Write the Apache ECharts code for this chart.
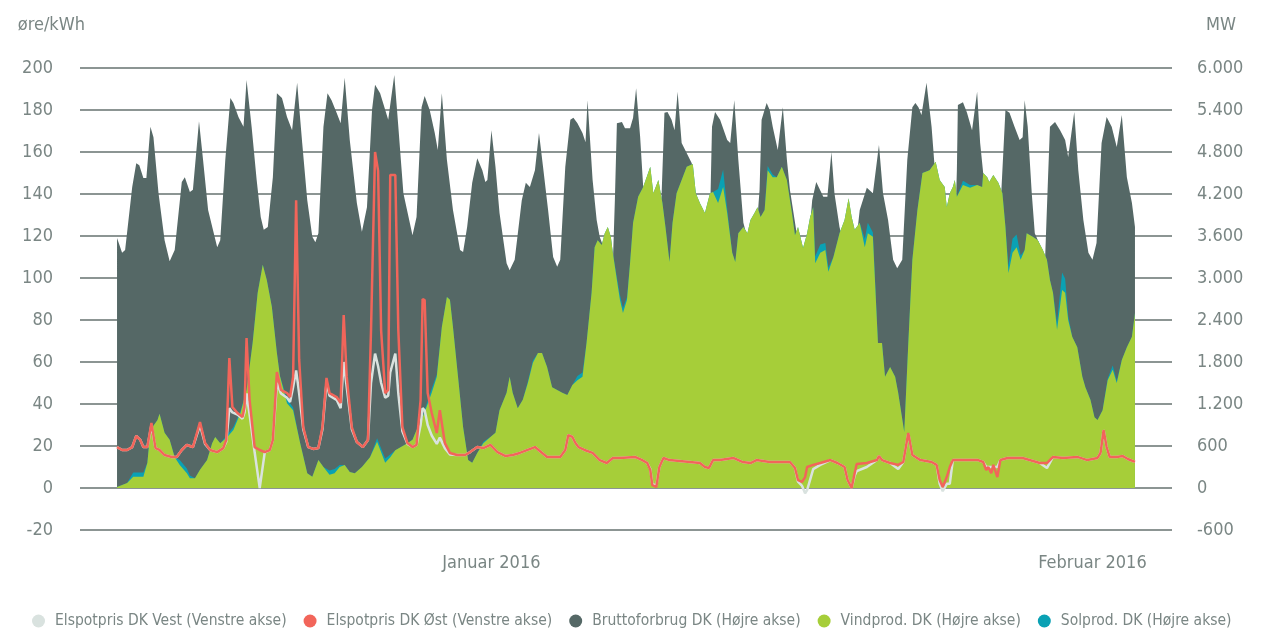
<!DOCTYPE html>
<html>
<head>
<meta charset="utf-8">
<script src="https://cdn.jsdelivr.net/npm/echarts@6/dist/echarts.min.js"></script>
<style>
  html, body { margin: 0; padding: 0; background: #fff; }
  #main { width: 1272px; height: 630px; }
</style>
</head>
<body>
<div id="main"></div>
<script>
// timer (hours from start of the period)
var consHours = [0,2.5,4,7.5,9.5,11,13,14.5,16.5,18,20.5,23.5,26,28.5,32,33.5,36,37.5,40.5,42.5,45,49.5,51,53.5,56,57.5,60,62.5,64,66.5,69,71,72.5,74.5,77,79,81.5,84,86.5,89,91.5,94,96.5,98,99.5,102,104,106,108.5,110.5,112.5,115,118.5,121,123.5,126,127.5,130,134,137,139,141.5,146,148,150.5,152,154.5,157,158.5,160.5,163,166,169.5,171,173,175.5,178,180.5,182,183,185,187,189,192.5,194,196.5,200,202,204,206.5,208.5,210.5,213,215.5,217.5,219,221.5,224,225.5,227.5,230,231.5,232.5,235,237,238.5,240,242.5,245,246,247,249.5,251,253.5,255,256.5,258.5,260,264.5,268,269,270.5,272,274,275.5,277,279,284,288,292,293,294,295.5,298,301.5,303,305,307,309.5,313,315.5,317.5,318.5,321,322.5,324,326.5,329,331,332.5,337.5,341.5,343.5,345.5,349,351,353,354.5,357,361,364.5,367,370.5,373.5,376.5,378.5,381,383.5,385.5,388,390.5,393,394.5,396,397.5,400,402.5,404,407.5,411.5,414,415,415.5,418,420,422.5,425,426.5,428,431.5,435.5,438,439,441,443.5,446,447.5,448.5,450,452,453.5,456,458.5,460,461,463.5,466,468.5,470,473,475,477.5,480,482,484,486.5,489,491.5,494,496.5,499,501.5,503];
var consMW = [3570,3360,3400,4300,4640,4610,4430,4430,5160,5010,4210,3540,3240,3400,4370,4440,4230,4260,5240,4690,3970,3440,3540,4690,5570,5500,5300,5160,5830,5160,4400,3870,3690,3730,4440,5640,5570,5300,5110,5790,4930,4110,3590,3510,3640,5160,5640,5540,5360,5210,5860,4970,4070,3660,4010,5400,5760,5640,5260,5900,5160,4210,3610,3870,5440,5600,5400,5070,4830,5640,4690,3970,3400,3370,3730,4360,4710,4540,4370,4400,5110,4590,3930,3210,3110,3260,4110,4360,4300,4540,5070,4590,3970,3300,3160,3260,4590,5260,5290,5210,5070,4940,5540,4400,3830,3590,3470,3300,3200,4110,5210,5230,5140,5140,5290,5710,5010,4300,3690,3400,4110,5360,5370,5260,5110,5660,4930,4640,3690,3400,3830,5160,5370,5260,4970,4930,5540,4690,3790,3400,3470,4260,5260,5500,5400,5160,4830,5440,4690,4260,3330,3400,4110,4370,4160,4160,4800,4210,3730,3260,3330,3970,4290,4210,4900,4210,3830,3260,3140,3260,4690,5440,5500,5440,5330,5790,5160,4590,3830,3400,3540,4540,5470,5510,5360,5110,5660,4930,4500,3540,3400,4830,5400,5360,5160,4970,5010,5540,5160,4210,3640,3470,3200,4400,5160,5230,5110,4970,4730,5370,4540,3830,3360,3260,3500,4930,5300,5160,4870,5330,4440,4070,3730];

var windHours = [0,5,8,13,15,16.5,20,21,23.5,26,28.5,31,34.5,36,38.5,41,44.5,47,48.5,51,54.5,57.5,61,64,67,69.5,72,74,76.5,79,80.5,84,87,90.5,94,96.5,99.5,102,105,107.5,110,112.5,115,117.5,121,125,128.5,132.5,135,137.5,143.5,146,148,150.5,153,155.5,158,160.5,163,164.5,166,168.5,171,173.5,175.5,178,181,184.5,187,189,192.5,194,195.5,198,200.5,203,205.5,208,210,212.5,215,217.5,220,222.5,225,227.5,230,232,234.5,236,237.5,239.5,241,242.5,244,245,247,248.5,250,252,253.5,255,257.5,260,263.5,265,267.5,269.5,271,273,274.5,276.5,279,281.5,284.5,286,288,290.5,293,294.5,297,299.5,301.5,304,305.5,307,309.5,311.5,313,315,316.5,318,320,321.5,324,326,328.5,331,333.5,335,336.5,339,341,342.5,344,345,347.5,350,351.5,354,357,359.5,361.5,363,364.5,367,369.5,371,373.5,376,378,379.5,382,384.5,386,389,391,393,395.5,398,401.5,404.5,406.5,409,410,411.5,413,414,415,418,421.5,425,427.5,428,430,431,433,435.5,437.5,439,440.5,442.5,444.5,446.5,448.5,449.5,452.5,455,457.5,459.5,461,462.5,464.5,467,468.5,470,472,474.5,477,478.5,481,483,484.5,487,489.5,492,494,496.5,499,501.5,503];
var windMW = [15,70,160,160,360,830,970,1060,790,690,440,330,210,140,140,260,400,640,730,640,730,830,1070,1400,2070,2790,3190,2970,2590,1930,1600,1210,1110,640,210,160,400,300,190,210,300,330,230,210,300,440,660,360,440,540,640,690,830,970,1160,1360,1590,2300,2730,2690,2300,1590,870,400,360,500,640,730,790,1110,1360,1590,1360,1140,1260,1500,1790,1930,1930,1730,1440,1400,1360,1330,1470,1540,1590,2070,2790,3440,3540,3470,3640,3730,3590,3360,2970,2690,2500,2690,3210,3790,4160,4300,4590,4210,4400,4070,3730,3230,3790,4210,4400,4590,4630,4210,4070,3930,4210,4230,4070,4300,3930,3360,3230,3640,3730,3640,3830,3930,4010,3870,3970,4540,4440,4440,4590,4400,3930,3610,3730,3430,3640,3870,4010,3210,3360,3400,3090,3300,3640,3830,4140,3870,3690,3790,3440,3640,3590,2070,2070,1590,1730,1590,1360,800,2070,3260,3970,4500,4540,4660,4400,4300,4010,4210,4300,4400,4160,4330,4290,4330,4300,4500,4440,4370,4470,4360,4210,3730,3070,3360,3440,3260,3400,3640,3590,3540,3400,3260,2970,2790,2260,2830,2790,2400,2160,2010,1590,1440,1260,1010,970,1110,1540,1690,1500,1830,2010,2160,2500];

// solar readings (only the hours where the blue band is visible; zero elsewhere)
var solarHours = [8,13,31,34.5,36,54.5,57.5,61,84,87,105,107.5,110,128.5,132.5,135,153,155.5,158,181,203,205.5,227.5,230,247,248.5,250,252,297,299.5,301.5,321.5,324,345,347.5,350,351.5,369.5,371,373.5,418,421.5,440.5,442.5,444.5,446.5,464.5,467,468.5,470,489.5,492,494];
var solarMW = [60,60,70,70,40,30,40,30,60,40,60,60,30,50,60,40,40,60,30,20,20,30,60,60,40,70,70,40,200,250,60,60,40,100,120,100,60,120,150,60,60,40,100,200,180,60,100,250,200,60,20,60,30];

var priceHours = [0,2.5,5,7.5,9.5,11.5,13,15,17,19,21,23.5,27,29.5,32,34.5,37.5,41,43.5,46,49.5,52.5,54,55.5,57,59.5,62,63,64,65.5,68,70.5,73,75.5,77,79,81,84,85.5,87,88.5,90,92,94.5,97,99.5,101.5,103.5,105,108.5,110.5,112,113.5,116,118.5,121.5,124,125.5,127.5,129,130.5,132.5,134,135,137.5,139,141,143.5,146,148,150,151,152,153.5,155.5,158,159.5,160,162,164.5,168,172,174.5,178,181,184.5,188,192,195.5,199,206.5,212.5,219,221.5,223,225,226.5,228,231,235,238.5,242,245,248.5,256,259.5,262,263.5,264.5,266.5,268,270,273,283,288,290.5,292.5,294.5,298,304.5,309,313,316,322.5,332.5,335,336.5,338.5,340,341,344,347.5,352.5,356,359.5,361,363,364.5,365.5,370.5,375.5,376.5,378,382,386,388.5,391,393,397,402.5,405,406.5,408,410,411.5,413,416.5,425.5,428,429.5,430.5,432,433,435,436.5,440,447.5,456,459.5,462.5,467.5,474.5,479.5,484.5,486,487.5,489,490.5,494,497,499.5,503];
var eastPrice = [19.5,18.1,18.1,19.5,24.8,22.9,19.5,19.5,31,19,18.1,15.7,14.8,14.8,18.1,20.5,19.5,31.4,21.4,18.1,17.1,19,22.9,61.9,38.6,35.7,33.8,38.6,71.4,41.9,19.5,18.1,17.1,18.1,22.9,55.2,46.7,45.2,43.3,52.9,137,61,29,19.5,18.6,19,29,52.4,45.2,43.3,40.5,82.4,52.9,29,21.9,19.5,22.9,75,160,151,75,45.2,46.7,149,149,75,29,21.4,19.5,20.5,41.9,90,89.5,45.2,35.7,26.2,37.1,38,21.4,16.7,15.7,15.7,17.1,19.5,19,20.5,17.1,15.2,15.7,16.7,19.5,14.8,14.8,18.1,25.2,24.3,21.4,19.5,18.1,16.7,13.3,11.9,14.3,14.3,14.8,13.3,11.9,8.6,1.4,0.5,10,14.3,13.3,12.4,11.9,10,9.5,13.3,13.3,14.3,12.4,11.9,13.3,12.4,12.4,9.5,3.8,2.9,5.2,10,11,11.9,13.3,11.9,10,3.8,0,7.1,11.4,11.9,13.3,15.2,13.3,11.9,11,12.4,26.2,15.7,13.3,12.4,11,3.8,0.5,5.2,10,13.3,13.3,13.3,12.4,8.6,10,7.1,11,5.2,13.3,14.3,14.3,11.9,11.9,14.8,14.3,14.8,13.3,14.3,16.7,27.6,19.5,14.8,14.8,15.2,13.8,12.4];
var westPrice = [19.5,18.1,18.1,19.5,24.8,22.9,19.5,19.5,30,19,18.1,15.7,14.8,14.8,18.1,20.5,19.5,30,21,18.1,17.1,19,22,38,36,35,33,36,45,35,17,0,17,18.1,22.9,50,45,43,41,48,56,45,28,19.5,18.6,19,28,50,44,42,38,60,48,28,21.9,19.5,22.9,50,64,58,50,43,44,55,64,45,27,21,19.5,20.5,30,38,37,30,25,21,24,24,19,16,15.7,15.7,17.1,19.5,19,20.5,17.1,15.2,15.7,16.7,19.5,14.8,14.8,18.1,25.2,24.3,21.4,19.5,18.1,16.7,13.3,11.9,14.3,14.3,14.8,13.3,11.9,9,2,1,10,14.3,13.3,12.4,11.9,10,9.5,13.3,13.3,14.3,12.4,11.9,13.3,12.4,12.4,9.5,3,1,-2.5,-1,9,11,13.3,11.9,10,3.8,0,6,8,10,13.3,15.2,13.3,11.9,9,12.4,26,15.7,13.3,12.4,11,2,-1.5,2,2,13.3,13.3,13.3,12.4,10,10,10,10,10,13.3,14.3,14.3,11.9,9.5,14.8,14.3,14.8,13.3,14.3,16.7,27.6,19.5,14.8,14.8,15.2,13.8,12.4];

var xLabelHours = [185, 482];
var xLabelTexts = ['Januar 2016', 'Februar 2016'];
var seriesNames = ['Elspotpris DK Vest (Venstre akse)', 'Elspotpris DK Øst (Venstre akse)',
  'Bruttoforbrug DK (Højre akse)', 'Vindprod. DK (Højre akse)', 'Solprod. DK (Højre akse)'];

function pairs(xs, ys) {
  return xs.map(function (x, i) { return [x, ys[i]]; });
}
function thousands(v) {
  var s = String(Math.abs(v));
  if (s.length > 3) s = s.slice(0, s.length - 3) + '.' + s.slice(s.length - 3);
  return (v < 0 ? '-' : '') + s;
}
// solar sits on top of wind: the blue area is drawn up to wind + solar, behind the green one
var windPlusSolar = windHours.map(function (h, i) {
  var j = solarHours.indexOf(h);
  return windMW[i] + (j >= 0 ? solarMW[j] : 0);
});

var font = "'DejaVu Sans Condensed', 'Liberation Sans Narrow', sans-serif";
var textCol = '#7a8684';
var gridCol = '#66726f';

var option = {
  animation: false,
  textStyle: { fontFamily: font },
  grid: { left: 80, right: 100, top: 68, bottom: 100 },
  legend: {
    left: 27, right: 10, top: 608, itemGap: 17, itemWidth: 13, itemHeight: 13, icon: 'circle',
    textStyle: { color: textCol, fontSize: 15.5, fontFamily: font, padding: [0, 0, 0, 5] },
    data: seriesNames
  },
  xAxis: {
    type: 'value', min: -18.3, max: 521.3,
    axisLine: { show: false, onZero: false }, axisTick: { show: false }, splitLine: { show: false },
    axisLabel: {
      customValues: xLabelHours, margin: 24, color: textCol, fontSize: 18, fontFamily: font,
      formatter: function (v) {
        var i = xLabelHours.indexOf(v);
        return i >= 0 ? xLabelTexts[i] : '';
      }
    }
  },
  yAxis: [{
    type: 'value', min: -20, max: 200, interval: 20,
    name: 'øre/kWh', nameLocation: 'end', nameGap: 43,
    nameTextStyle: { color: textCol, fontSize: 18, fontFamily: font, align: 'right', verticalAlign: 'middle', padding: [0, -5, 0, 0] },
    axisLine: { show: false, onZero: false }, axisTick: { show: false },
    axisLabel: { color: textCol, fontSize: 18, fontFamily: font, margin: 27 },
    splitLine: { lineStyle: { color: gridCol, width: 1.5 } }
  }, {
    type: 'value', min: -600, max: 6000, interval: 600,
    name: 'MW', nameLocation: 'end', nameGap: 43,
    nameTextStyle: { color: textCol, fontSize: 18, fontFamily: font, align: 'right', verticalAlign: 'middle', padding: [0, -64, 0, 0] },
    axisLine: { show: false, onZero: false }, axisTick: { show: false }, splitLine: { show: false },
    axisLabel: { color: textCol, fontSize: 18, fontFamily: font, margin: 25, formatter: thousands }
  }],
  series: [{
    name: seriesNames[0], type: 'line', yAxisIndex: 0, z: 5,
    data: pairs(priceHours, westPrice), showSymbol: false,
    lineStyle: { color: '#d9e2df', width: 2.5 }, itemStyle: { color: '#d9e2df' }
  }, {
    name: seriesNames[1], type: 'line', yAxisIndex: 0, z: 6,
    data: pairs(priceHours, eastPrice), showSymbol: false,
    lineStyle: { color: '#f2655a', width: 2.5 }, itemStyle: { color: '#f2655a' }
  }, {
    name: seriesNames[2], type: 'line', yAxisIndex: 1, z: 2,
    data: pairs(consHours, consMW), showSymbol: false,
    lineStyle: { width: 0 }, itemStyle: { color: '#556866' },
    areaStyle: { color: '#556866', opacity: 1 }
  }, {
    name: seriesNames[3], type: 'line', yAxisIndex: 1, z: 4,
    data: pairs(windHours, windMW), showSymbol: false,
    lineStyle: { width: 0 }, itemStyle: { color: '#a6ce39' },
    areaStyle: { color: '#a6ce39', opacity: 1 }
  }, {
    name: seriesNames[4], type: 'line', yAxisIndex: 1, z: 3,
    data: pairs(windHours, windPlusSolar), showSymbol: false,
    lineStyle: { width: 0 }, itemStyle: { color: '#0aa1b4' },
    areaStyle: { color: '#0aa1b4', opacity: 1 }
  }]
};

var chart = echarts.init(document.getElementById('main'));
chart.setOption(option);
</script>
</body>
</html>
